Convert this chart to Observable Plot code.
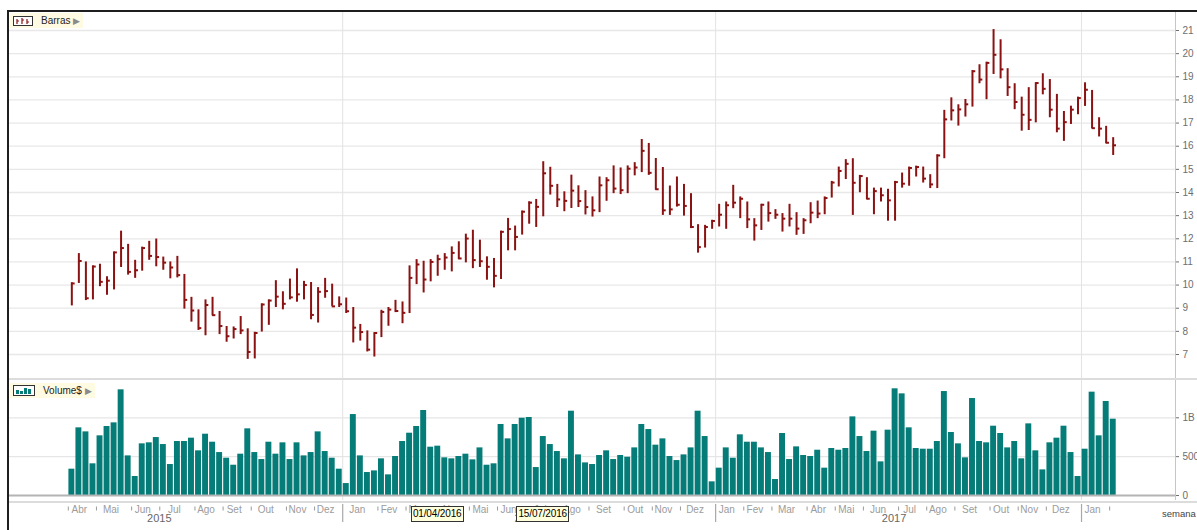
<!DOCTYPE html>
<html>
<head>
<meta charset="utf-8">
<script src="https://cdn.jsdelivr.net/npm/d3@7"></script>
<script src="https://cdn.jsdelivr.net/npm/@observablehq/plot@0.6"></script>
<style>
  body { margin: 0; background: #fff; font-family: "Liberation Sans", Arial, sans-serif; }
  #wrap { position: relative; width: 1197px; height: 530px; overflow: hidden; background: #fff; }
  .layer { position: absolute; left: 0; }
  .line { position: absolute; }
  .legend { position: absolute; left: 10px; height: 15px; background: #fffbe2; display: flex; align-items: center; font-size: 10px; color: #222; }
  .legend svg { margin-left: 3px; margin-right: 8px; }
  .legend .tri { color: #8a8a8a; font-size: 9px; margin-left: 3px; margin-right: 3px; }
  .dbox { position: absolute; top: 506px; width: 51px; height: 14px; border: 1px solid #333; background: #ffffdc; font-size: 10px; letter-spacing: -0.15px; line-height: 14px; text-align: center; color: #000; white-space: nowrap; overflow: hidden; }
  .semana { position: absolute; left: 1162px; top: 508px; font-size: 9.5px; color: #444; }
</style>
</head>
<body>
<div id="wrap"></div>
<script>
// ---------- data ----------
const startDate = "2015-04-03";   // first weekly bar (weeks step by 7 days)
const highs = [10.1,11.36,11.0,10.83,10.9,10.36,11.43,12.33,11.76,11.07,
  11.64,11.89,11.99,11.21,11.0,11.24,10.46,9.47,8.93,9.36,
  9.47,8.86,8.21,8.19,8.64,8.11,7.96,9.19,9.36,10.19,
  9.71,10.26,10.7,10.16,10.11,9.89,10.29,10.04,9.49,9.44,
  9.03,8.3,8.02,7.94,8.91,9.03,9.34,9.27,10.83,11.1,
  11.03,11.1,11.29,11.36,11.65,11.87,12.2,12.37,11.94,11.22,
  11.15,12.33,12.88,12.55,13.2,13.6,13.7,15.33,15.09,14.35,
  14.03,14.75,14.29,14.08,13.81,14.67,14.64,15.15,15.06,15.15,
  15.29,16.29,16.12,15.47,15.08,14.28,14.67,14.35,13.95,12.61,
  12.58,12.8,13.49,13.59,14.31,13.81,13.59,12.87,13.49,13.59,
  13.26,13.09,13.49,13.13,12.87,13.56,13.63,13.81,14.48,15.1,
  15.42,15.46,14.74,14.64,14.19,14.19,14.14,14.48,14.84,15.1,
  15.14,15.1,14.77,15.63,17.55,18.09,17.79,18.02,19.27,19.52,
  19.63,21.04,20.6,19.35,18.7,18.12,18.53,18.74,19.13,18.88,
  18.24,17.5,17.73,18.12,18.74,18.41,17.23,16.86,16.37];
const lows = [9.1,10.07,9.33,9.36,9.93,9.56,9.79,10.76,10.43,10.29,
  10.6,11.07,10.79,10.64,10.27,10.31,8.96,8.4,8.04,7.81,
  8.67,7.86,7.53,7.67,7.86,6.79,6.81,7.97,8.26,9.03,
  8.93,9.36,9.26,9.36,8.5,8.36,9.43,9.08,9.03,8.77,
  7.5,7.58,7.11,6.89,7.73,8.22,8.81,8.33,8.77,10.02,
  9.66,10.14,10.38,10.64,10.57,11.1,10.96,10.71,10.76,10.21,
  9.88,10.24,11.48,11.48,12.16,12.63,12.49,12.95,13.89,13.35,
  13.17,13.31,13.35,13.03,12.94,13.13,13.62,13.95,13.91,13.95,
  14.72,14.86,14.74,14.1,13.01,13.01,13.37,12.98,12.44,11.38,
  11.6,12.41,12.51,12.41,13.3,12.87,12.44,11.9,12.36,12.72,
  12.84,12.29,12.51,12.15,12.19,12.65,12.87,13.04,13.76,14.24,
  14.56,13.01,13.99,13.69,13.04,13.59,12.76,12.76,14.19,14.27,
  14.67,14.41,14.17,14.17,15.46,17.09,16.87,17.26,17.69,18.7,
  18.01,19.1,18.91,18.15,17.58,16.65,16.68,17.01,18.22,17.23,
  16.58,16.21,16.94,17.36,17.72,16.76,16.4,16.11,15.6];
const closes = [10.07,11.04,9.43,10.8,10.14,10.19,11.41,11.6,10.57,10.64,
  11.6,11.26,11.21,10.97,10.76,10.43,9.36,8.9,8.14,9.14,
  8.7,8.23,7.79,8.1,8.04,7.11,7.93,9.16,9.33,9.5,
  9.19,9.47,9.6,10.0,8.71,9.71,9.74,9.08,9.17,8.87,
  8.16,7.97,7.21,7.93,8.84,8.94,8.88,8.8,10.31,10.89,
  10.24,11.0,11.12,11.19,11.39,11.15,12.01,11.08,11.03,10.79,
  10.4,12.3,12.42,12.08,13.17,13.56,13.38,14.83,14.29,13.7,
  13.64,14.08,13.63,13.37,13.23,14.31,14.53,14.17,14.1,15.03,
  15.08,15.8,14.85,14.14,13.23,13.27,13.47,13.42,12.51,11.64,
  12.51,12.77,13.04,13.45,13.56,13.73,12.84,12.58,13.47,13.11,
  13.04,12.87,12.87,12.44,12.8,13.13,13.09,13.76,14.43,14.93,
  15.24,14.42,14.71,13.73,14.06,13.88,13.66,14.45,14.38,15.06,
  15.1,14.6,14.35,15.6,17.16,17.55,17.59,17.81,19.24,18.88,
  19.6,19.95,19.32,18.55,17.91,17.36,17.14,18.73,18.48,17.58,
  16.76,17.04,17.58,18.08,18.44,16.78,16.76,16.15,16.04];
const volumesM = [339,871,819,408,768,888,935,1360,510,245,
  665,678,746,656,399,695,695,738,575,789,
  686,553,480,390,532,858,553,463,686,532,
  678,463,678,510,553,819,566,480,339,154,
  1042,510,296,317,472,266,502,695,802,888,
  1094,622,635,485,472,502,532,459,613,390,
  408,914,729,914,995,1004,360,759,656,566,
  472,1085,523,420,399,515,575,463,515,493,
  613,914,849,648,729,502,450,523,613,1085,
  759,176,352,613,480,781,686,686,613,553,
  206,798,463,626,515,502,583,352,605,583,
  605,1012,759,566,828,433,841,1373,1308,871,
  605,596,596,695,1338,811,665,485,1248,695,
  678,892,798,613,695,472,922,575,330,678,
  738,892,553,245,596,1330,768,1210,982];
const priceTicks = [7,8,9,10,11,12,13,14,15,16,17,18,19,20,21];
const volumeTicks = [0, 500, 1000];
const volumeTickLabels = ["0", "500M", "1B"];
const monthNames = ["Jan","Fev","Mar","Abr","Mai","Jun","Jul","Ago","Set","Out","Nov","Dez"];
const yearNames = ["2015","2016","2017"];
const markerLabels = ["01/04/2016","15/07/2016"];

// ---------- derived table ----------
const DAY = 864e5;
const addDays = (d, n) => new Date(+d + n * DAY);
const start = new Date(startDate);
const data = highs.map((h, i) => ({
  date: addDays(start, 7 * i),
  high: h, low: lows[i], close: closes[i], volume: volumesM[i]
}));
const last = data[data.length - 1].date;
const xDomain = [addDays(data[0].date, -62), addDays(last, 62)];

// month boundaries (left edge of the first weekly bar of each month)
const monthStarts = [];
data.forEach((d, i) => {
  if (i === 0 || d.date.getUTCMonth() !== data[i - 1].date.getUTCMonth())
    monthStarts.push({date: addDays(d.date, -3.5), m: d.date.getUTCMonth()});
});
const yearSeps = monthStarts.filter((m, i) => i > 0 && m.m === 0);
const smallTicks = monthStarts.filter(m => m.m !== 0);
const monthLabels = monthStarts.slice(0, -1).map((m, k) => ({
  mid: new Date((+m.date + +monthStarts[k + 1].date) / 2),
  name: monthNames[m.m]
}));
const yearLabels = yearNames.map(y => {
  const a = addDays(new Date(`${y}-01-01`), -3.5), b = addDays(new Date(`${+y + 1}-01-01`), -3.5);
  return {mid: new Date((+a + +b) / 2), name: y};
});

const RED = "#8a1212", TEAL = "#067c78";
const W = 1197;
const baseStyle = {background: "transparent", overflow: "visible", fontFamily: "Liberation Sans, Arial, sans-serif"};
const xOpt = {type: "utc", domain: xDomain, axis: null};

// ---------- price panel ----------
const price = Plot.plot({
  width: W, height: 367, marginTop: 0, marginBottom: 0, marginLeft: 9, marginRight: 22,
  style: baseStyle,
  x: xOpt,
  y: {domain: [5.963, 21.821], axis: null},
  marks: [
    Plot.ruleY(priceTicks, {stroke: "#e8e8e8", strokeWidth: 1.3}),
    Plot.ruleX(yearSeps, {x: "date", stroke: "#e3e3e3"}),
    Plot.ruleX([xDomain[1]], {stroke: "#c6c6c6"}),
    Plot.axisY(priceTicks, {anchor: "right", label: null, tickSize: 3, tickPadding: 4, fontSize: 10, color: "#6e6e6e"}),
    Plot.ruleX(data, {x: "date", y1: "low", y2: "high", stroke: RED, strokeWidth: 2}),
    Plot.ruleY(data, {y: "close", x1: "date", x2: d => addDays(d.date, 3.3), stroke: RED, strokeWidth: 2})
  ]
});

// ---------- volume panel ----------
const volume = Plot.plot({
  width: W, height: 120, marginTop: 0, marginBottom: 0, marginLeft: 9, marginRight: 22,
  style: baseStyle,
  x: xOpt,
  y: {domain: [-64, 1480], axis: null, label: null},
  marks: [
    Plot.ruleY(volumeTicks.slice(1), {stroke: "#e6e6e6", strokeWidth: 1.3}),
    Plot.ruleX(yearSeps, {x: "date", stroke: "#e3e3e3"}),
    Plot.ruleX([xDomain[1]], {stroke: "#c6c6c6"}),
    Plot.rect(data, {x1: d => addDays(d.date, -2.9), x2: d => addDays(d.date, 3.0), y1: 0, y2: "volume", fill: TEAL}),
    Plot.ruleY([0], {stroke: "#b4b4b4", strokeWidth: 2}),
    Plot.axisY(volumeTicks, {anchor: "right", label: null, tickSize: 3, tickPadding: 4, fontSize: 10, color: "#6e6e6e",
      tickFormat: d => volumeTickLabels[volumeTicks.indexOf(d)]})
  ]
});

// ---------- bottom time axis ----------
const axis = Plot.plot({
  width: W, height: 30, marginTop: 0, marginBottom: 0, marginLeft: 9, marginRight: 22,
  style: baseStyle,
  x: xOpt,
  y: {domain: [0, 30], range: [0, 30], axis: null},
  marks: [
    Plot.ruleX(smallTicks, {x: "date", y1: 6.5, y2: 10.5, stroke: "#9a9a9a"}),
    Plot.ruleX(yearSeps, {x: "date", y1: 4, y2: 22, stroke: "#a8a8a8", strokeWidth: 1.2}),
    Plot.text(monthLabels, {x: "mid", y: 9.5, text: "name", dx: -3, fontSize: 10, fill: "#9c9c9c"}),
    Plot.text(yearLabels, {x: "mid", y: 18, text: "name", fontSize: 11, fill: "#666"})
  ]
});

// ---------- assemble ----------
const wrap = document.getElementById("wrap");
function place(node, top) {
  const d = document.createElement("div");
  d.className = "layer"; d.style.top = top + "px";
  d.appendChild(node); wrap.appendChild(d);
}
function line(left, top, w, h, color) {
  const d = document.createElement("div");
  d.className = "line";
  Object.assign(d.style, {left: left + "px", top: top + "px", width: w + "px", height: h + "px", background: color});
  wrap.appendChild(d);
}
place(price, 11);
line(9, 378, 1188, 2, "#dcdcdc");
place(volume, 380);
line(9, 501, 1188, 2, "#dcdcdc");
place(axis, 500);
line(8, 10, 1189, 2, "#1e1e1e");
line(7, 10, 2, 520, "#1e1e1e");

// legends
function legend(top, label, iconSvg) {
  const d = document.createElement("div");
  d.className = "legend"; d.style.top = top + "px";
  d.innerHTML = iconSvg + `<span>${label}</span><span class="tri">&#9654;</span>`;
  wrap.appendChild(d);
}
legend(13, "Barras",
  `<svg width="20" height="10"><rect x="0.5" y="0.5" width="19" height="9" fill="#fff" stroke="#333"/>
   <path d="M4 3v5M4 5h2M9 2v6M9 4h2M14 3v5M14 6h2" stroke="${RED}" stroke-width="1.2"/></svg>`);
legend(383, "Volume$",
  `<svg width="22" height="11"><rect x="0.5" y="0.5" width="21" height="10" fill="#fff" stroke="#333"/>
   <rect x="3" y="5" width="3" height="4" fill="${TEAL}"/><rect x="7" y="6" width="3" height="3" fill="${TEAL}"/>
   <rect x="11" y="3" width="3" height="6" fill="${TEAL}"/><rect x="15" y="4" width="3" height="5" fill="${TEAL}"/></svg>`);

// date marker boxes positioned through the x scale
const xs = axis.scale("x");
const parseDMY = d3.utcParse("%d/%m/%Y");
markerLabels.forEach(lbl => {
  const cx = xs.apply(parseDMY(lbl));
  const b = document.createElement("div");
  b.className = "dbox"; b.textContent = lbl;
  b.style.left = (cx - 26.5) + "px";
  wrap.appendChild(b);
});
const s = document.createElement("div");
s.className = "semana"; s.textContent = "semana";
wrap.appendChild(s);
</script>
</body>
</html>
